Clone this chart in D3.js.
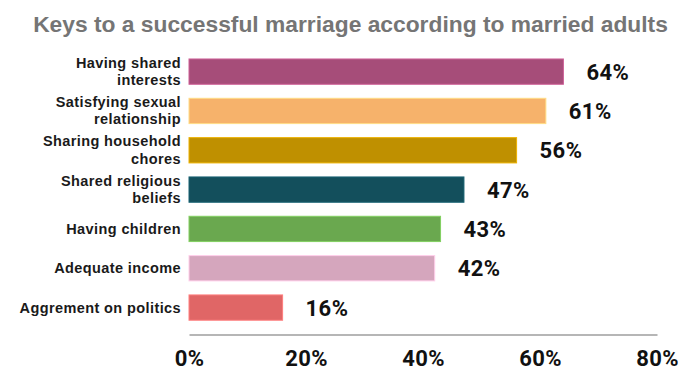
<!DOCTYPE html>
<html>
<head>
<meta charset="utf-8">
<script src="https://cdn.jsdelivr.net/npm/d3@7"></script>
<style>
  body { margin: 0; background: #fff; }
</style>
</head>
<body>
<script>
// data
var categories = [
    ["Having shared", "interests"],
    ["Satisfying sexual", "relationship"],
    ["Sharing household", "chores"],
    ["Shared religious", "beliefs"],
    ["Having children"],
    ["Adequate income"],
    ["Aggrement on politics"]
];
var values = [64, 61, 56, 47, 43, 42, 16];
var barColors = ["#a64d79", "#f6b26b", "#bf9000", "#134f5c", "#6aa84f", "#d5a6bd", "#e06666"];
var ticks = [0, 20, 40, 60, 80];

var width = 700, height = 384;

var svg = d3.select("body")
    .append("svg")
    .attr("width", width)
    .attr("height", height);

svg.append("text")
    .text("Keys to a successful marriage according to married adults")
    .attr("x", 350.5)
    .attr("y", 31.5)
    .attr("text-anchor", "middle")
    .attr("fill", "#757575")
    .style("font-family", "'Liberation Sans', Arial, sans-serif")
    .style("font-weight", "bold")
    .style("font-size", "22.8px");

var x = d3.scaleLinear()
    .domain([0, 80])
    .range([189, 657]);

var y = d3.scaleBand()
    .domain(d3.range(categories.length))
    .range([51.9, 327.3])
    .paddingInner(0.357)
    .paddingOuter(0.18);

// bars
svg.append("g")
    .selectAll("rect")
    .data(values)
    .enter()
    .append("rect")
        .attr("x", x(0))
        .attr("y", (d, i) => y(i))
        .attr("width", d => x(d) - x(0))
        .attr("height", y.bandwidth())
        .attr("fill", (d, i) => barColors[i])
        .attr("stroke", (d, i) => d3.color(barColors[i]).brighter(0.6))
        .attr("stroke-width", 1);

// value labels
svg.append("g")
    .selectAll("text")
    .data(values)
    .enter()
    .append("text")
        .text(d => d + "%")
        .attr("x", d => x(d) + 23)
        .attr("y", (d, i) => y(i) + y.bandwidth() / 2 + 8)
        .attr("fill", "#111")
        .style("font-family", "Roboto, sans-serif")
        .style("font-weight", "bold")
        .style("font-size", "22px")
        .style("letter-spacing", "0.4px");

// category labels
var catLabels = svg.append("g")
    .selectAll("text")
    .data(categories)
    .enter()
    .append("text")
        .attr("text-anchor", "end")
        .attr("fill", "#1a1a1a")
        .style("font-family", "'Liberation Sans', Arial, sans-serif")
        .style("font-weight", "bold")
        .style("font-size", "14.5px")
        .style("letter-spacing", "0.4px");

catLabels.each(function(d, i) {
    var cy = y(i) + y.bandwidth() / 2;
    var start = d.length == 1 ? cy + 5.2 : cy - 3.8;
    d3.select(this).selectAll("tspan")
        .data(d)
        .enter()
        .append("tspan")
            .text(t => t)
            .attr("x", 181)
            .attr("y", (t, j) => start + j * 17.2);
});

// x axis
var xAxis = d3.axisBottom(x)
    .tickValues(ticks)
    .tickFormat(d => d + "%")
    .tickSize(0)
    .tickPadding(16);

var axisG = svg.append("g")
    .attr("transform", "translate(0,334.5)")
    .call(xAxis);

axisG.select(".domain")
    .attr("stroke", "#9e9e9e")
    .attr("stroke-width", 1.5);

axisG.selectAll("text")
    .attr("fill", "#111")
    .style("font-family", "Roboto, sans-serif")
    .style("font-weight", "bold")
    .style("font-size", "22px")
    .style("letter-spacing", "0.4px");
</script>
</body>
</html>
